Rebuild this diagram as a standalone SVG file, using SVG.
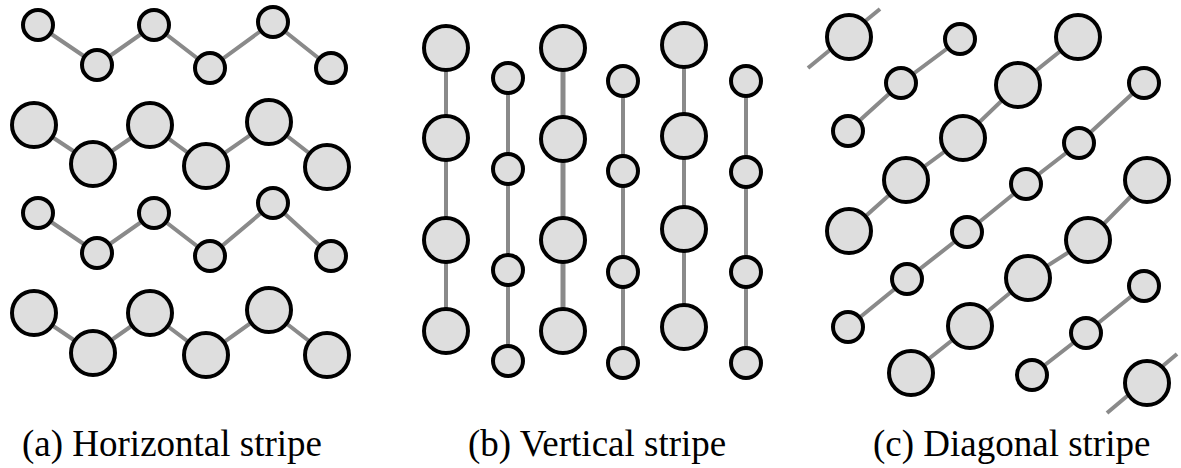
<svg xmlns="http://www.w3.org/2000/svg" width="1181" height="468" viewBox="0 0 1181 468">
<style>
.e{stroke:#8a8a8a;stroke-width:4;fill:none}
.s{fill:#dedede;stroke:#000;stroke-width:4}
.t{font-family:"Liberation Serif","Times New Roman",serif;font-size:37px;fill:#000}
</style>
<defs>
<circle id="sm" r="15" class="s"/>
<circle id="lg" r="22" class="s"/>
</defs>
<rect width="1181" height="468" fill="#fff"/>
<g id="connectors">
<!-- (a) -->
<polyline class="e" points="38,25 97,65 154,25 210,68 273,22 331,68"/>
<polyline class="e" points="34,125 93,164 150,125 206,166 269,122 327,167"/>
<polyline class="e" points="38,213 97,253 154,213 210,256 273,203 331,256"/>
<polyline class="e" points="34,313 93,353 150,313 206,355 269,310 327,355"/>
<!-- (b) -->
<polyline class="e" points="446,48 446,138 446,240 446,331"/>
<polyline class="e" points="508,78 508,169 508,270 508,361"/>
<polyline class="e" style="stroke-width:5" points="563,48 563,139 563,240 563,331"/>
<polyline class="e" points="623,81 623,171 623,272 623,363"/>
<polyline class="e" points="684,45 684,136 684,229 684,327"/>
<polyline class="e" points="746,81 746,172 746,272 746,363"/>
<!-- (c) -->
<line class="e" x1="808" y1="68" x2="880" y2="9"/>
<polyline class="e" points="848,131 901,83 960,39"/>
<polyline class="e" points="849,231 906,180 963,138 1018,85 1078,37"/>
<polyline class="e" points="848,327 907,279 967,232 1026,184 1079,143 1144,83"/>
<polyline class="e" points="911,373 970,326 1028,278 1088,240 1147,180"/>
<polyline class="e" points="1032,375 1086,333 1144,286"/>
<line class="e" x1="1107" y1="413" x2="1177" y2="354"/>
</g>
<!-- (a) nodes -->
<g id="a1"><use href="#sm" x="38" y="25"/></g>
<g id="a2"><use href="#sm" x="97" y="65"/></g>
<g id="a3"><use href="#sm" x="154" y="25"/></g>
<g id="a4"><use href="#sm" x="210" y="68"/></g>
<g id="a5"><use href="#sm" x="273" y="22"/></g>
<g id="a6"><use href="#sm" x="331" y="68"/></g>
<g id="a7"><use href="#lg" x="34" y="125"/></g>
<g id="a8"><use href="#lg" x="93" y="164"/></g>
<g id="a9"><use href="#lg" x="150" y="125"/></g>
<g id="a10"><use href="#lg" x="206" y="166"/></g>
<g id="a11"><use href="#lg" x="269" y="122"/></g>
<g id="a12"><use href="#lg" x="327" y="167"/></g>
<g id="a13"><use href="#sm" x="38" y="213"/></g>
<g id="a14"><use href="#sm" x="97" y="253"/></g>
<g id="a15"><use href="#sm" x="154" y="213"/></g>
<g id="a16"><use href="#sm" x="210" y="256"/></g>
<g id="a17"><use href="#sm" x="273" y="203"/></g>
<g id="a18"><use href="#sm" x="331" y="256"/></g>
<g id="a19"><use href="#lg" x="34" y="313"/></g>
<g id="a20"><use href="#lg" x="93" y="353"/></g>
<g id="a21"><use href="#lg" x="150" y="313"/></g>
<g id="a22"><use href="#lg" x="206" y="355"/></g>
<g id="a23"><use href="#lg" x="269" y="310"/></g>
<g id="a24"><use href="#lg" x="327" y="355"/></g>
<!-- (b) nodes -->
<g id="b1"><use href="#lg" x="446" y="48"/></g>
<g id="b2"><use href="#lg" x="446" y="138"/></g>
<g id="b3"><use href="#lg" x="446" y="240"/></g>
<g id="b4"><use href="#lg" x="446" y="331"/></g>
<g id="b5"><use href="#sm" x="508" y="78"/></g>
<g id="b6"><use href="#sm" x="508" y="169"/></g>
<g id="b7"><use href="#sm" x="508" y="270"/></g>
<g id="b8"><use href="#sm" x="508" y="361"/></g>
<g id="b9"><use href="#lg" x="563" y="48"/></g>
<g id="b10"><use href="#lg" x="563" y="139"/></g>
<g id="b11"><use href="#lg" x="563" y="240"/></g>
<g id="b12"><use href="#lg" x="563" y="331"/></g>
<g id="b13"><use href="#sm" x="623" y="81"/></g>
<g id="b14"><use href="#sm" x="623" y="171"/></g>
<g id="b15"><use href="#sm" x="623" y="272"/></g>
<g id="b16"><use href="#sm" x="623" y="363"/></g>
<g id="b17"><use href="#lg" x="684" y="45"/></g>
<g id="b18"><use href="#lg" x="684" y="136"/></g>
<g id="b19"><use href="#lg" x="684" y="229"/></g>
<g id="b20"><use href="#lg" x="684" y="327"/></g>
<g id="b21"><use href="#sm" x="746" y="81"/></g>
<g id="b22"><use href="#sm" x="746" y="172"/></g>
<g id="b23"><use href="#sm" x="746" y="272"/></g>
<g id="b24"><use href="#sm" x="746" y="363"/></g>
<!-- (c) nodes -->
<g id="c1"><use href="#lg" x="849" y="37"/></g>
<g id="c2"><use href="#sm" x="848" y="131"/></g>
<g id="c3"><use href="#sm" x="901" y="83"/></g>
<g id="c4"><use href="#sm" x="960" y="39"/></g>
<g id="c5"><use href="#lg" x="849" y="231"/></g>
<g id="c6"><use href="#lg" x="906" y="180"/></g>
<g id="c7"><use href="#lg" x="963" y="138"/></g>
<g id="c8"><use href="#lg" x="1018" y="85"/></g>
<g id="c9"><use href="#lg" x="1078" y="37"/></g>
<g id="c10"><use href="#sm" x="848" y="327"/></g>
<g id="c11"><use href="#sm" x="907" y="279"/></g>
<g id="c12"><use href="#sm" x="967" y="232"/></g>
<g id="c13"><use href="#sm" x="1026" y="184"/></g>
<g id="c14"><use href="#sm" x="1079" y="143"/></g>
<g id="c15"><use href="#sm" x="1144" y="83"/></g>
<g id="c16"><use href="#lg" x="911" y="373"/></g>
<g id="c17"><use href="#lg" x="970" y="326"/></g>
<g id="c18"><use href="#lg" x="1028" y="278"/></g>
<g id="c19"><use href="#lg" x="1088" y="240"/></g>
<g id="c20"><use href="#lg" x="1147" y="180"/></g>
<g id="c21"><use href="#sm" x="1032" y="375"/></g>
<g id="c22"><use href="#sm" x="1086" y="333"/></g>
<g id="c23"><use href="#sm" x="1144" y="286"/></g>
<g id="c24"><use href="#lg" x="1147" y="383"/></g>
<g id="captions">
<text class="t" x="22" y="456">(a) Horizontal stripe</text>
<text class="t" x="468" y="456">(b) Vertical stripe</text>
<text class="t" x="873" y="456">(c) Diagonal stripe</text>
</g>
</svg>
